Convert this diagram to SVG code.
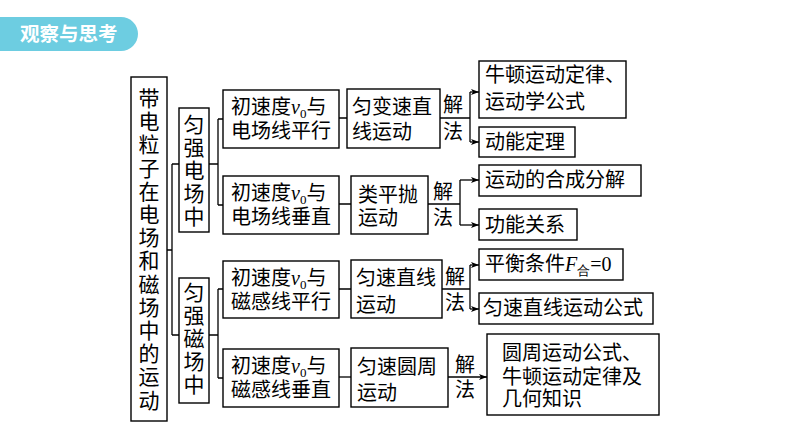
<svg xmlns="http://www.w3.org/2000/svg" width="794" height="447" viewBox="0 0 794 447">
<defs>
<style>
.b{fill:#fff;stroke:#000;stroke-width:1.4}
.t{font-family:"Liberation Serif","Noto Sans CJK SC",serif;font-size:20px;fill:#000}
.v{font-family:"Liberation Serif","Noto Sans CJK SC",serif;font-size:21px;fill:#000;text-anchor:middle}
.c{fill:none;stroke:#000;stroke-width:1.3}
.i{font-style:italic;font-family:"Liberation Serif",serif}
.s{font-size:13px;font-family:"Liberation Serif",serif}
.badge{font-family:"Noto Sans CJK SC","Noto Sans",sans-serif;font-size:19.5px;font-weight:bold;fill:#fff}
</style>
<marker id="ar" markerWidth="8" markerHeight="6" refX="8" refY="3" orient="auto" markerUnits="userSpaceOnUse">
<path d="M0,0 L8,3 L0,6 L2,3 Z" fill="#000"/>
</marker>
</defs>
<rect width="794" height="447" fill="#fff"/>
<g id="badge">
<path d="M0,17 H121 A17,17 0 0 1 121,51 H0 Z" fill="#6dcde1"/>
<text class="badge" x="20" y="41">观察与思考</text>
</g>
<g id="connectors">
<path class="c" d="M167,250 H172 M172,164 V335 M172,164 H179 M172,335 H179"/>
<path class="c" d="M209,164 H218 M218,119 V205 M218,119 H223 M218,205 H223"/>
<path class="c" d="M209,335 H218 M218,289 V378 M218,289 H223 M218,378 H223"/>
<path class="c" d="M339,118 H347 M440,118 H470 M470,92 V142"/>
<path class="c" d="M470,92 H479" marker-end="url(#ar)"/>
<path class="c" d="M470,142 H479" marker-end="url(#ar)"/>
<path class="c" d="M339,204 H351 M428,204 H460 M460,180 V225"/>
<path class="c" d="M460,180 H479" marker-end="url(#ar)"/>
<path class="c" d="M460,225 H479" marker-end="url(#ar)"/>
<path class="c" d="M339,289 H351 M442,289 H470 M470,265 V309"/>
<path class="c" d="M470,265 H479" marker-end="url(#ar)"/>
<path class="c" d="M470,309 H479" marker-end="url(#ar)"/>
<path class="c" d="M339,377 H351"/>
<path class="c" d="M448,377 H487" marker-end="url(#ar)"/>
</g>
<g id="labels">
<text class="t" x="443" y="112">解</text><text class="t" x="443" y="139">法</text>
<text class="t" x="433" y="199">解</text><text class="t" x="433" y="225">法</text>
<text class="t" x="445" y="284">解</text><text class="t" x="445" y="310">法</text>
<text class="t" x="455" y="372">解</text><text class="t" x="455" y="397">法</text>
</g>
<g id="main">
<rect class="b" x="131" y="77" width="36" height="344"/>
<text class="v" x="149"><tspan x="149" y="106">带</tspan><tspan x="149" y="129.2">电</tspan><tspan x="149" y="152.4">粒</tspan><tspan x="149" y="175.6">子</tspan><tspan x="149" y="198.8">在</tspan><tspan x="149" y="222">电</tspan><tspan x="149" y="245.2">场</tspan><tspan x="149" y="268.4">和</tspan><tspan x="149" y="291.6">磁</tspan><tspan x="149" y="314.8">场</tspan><tspan x="149" y="338">中</tspan><tspan x="149" y="361.2">的</tspan><tspan x="149" y="384.4">运</tspan><tspan x="149" y="407.6">动</tspan></text>
</g>
<g id="efield">
<rect class="b" x="179" y="108" width="30" height="124"/>
<text class="v" x="194"><tspan x="194" y="131.5">匀</tspan><tspan x="194" y="154.7">强</tspan><tspan x="194" y="177.9">电</tspan><tspan x="194" y="201.1">场</tspan><tspan x="194" y="224.3">中</tspan></text>
</g>
<g id="bfield">
<rect class="b" x="179" y="278" width="30" height="125"/>
<text class="v" x="194"><tspan x="194" y="299.5">匀</tspan><tspan x="194" y="322.7">强</tspan><tspan x="194" y="345.9">磁</tspan><tspan x="194" y="369.1">场</tspan><tspan x="194" y="392.3">中</tspan></text>
</g>
<g id="c1">
<rect class="b" x="223" y="90" width="116" height="58"/>
<text class="t" x="231" y="114">初速度<tspan class="i">v</tspan><tspan class="s" dy="4">0</tspan><tspan dy="-4">与</tspan></text>
<text class="t" x="231" y="138">电场线平行</text>
</g>
<g id="c2">
<rect class="b" x="223" y="176" width="116" height="58"/>
<text class="t" x="231" y="200">初速度<tspan class="i">v</tspan><tspan class="s" dy="4">0</tspan><tspan dy="-4">与</tspan></text>
<text class="t" x="231" y="224">电场线垂直</text>
</g>
<g id="c3">
<rect class="b" x="223" y="261" width="116" height="57"/>
<text class="t" x="231" y="285">初速度<tspan class="i">v</tspan><tspan class="s" dy="4">0</tspan><tspan dy="-4">与</tspan></text>
<text class="t" x="231" y="309">磁感线平行</text>
</g>
<g id="c4">
<rect class="b" x="223" y="349" width="116" height="58"/>
<text class="t" x="231" y="373">初速度<tspan class="i">v</tspan><tspan class="s" dy="4">0</tspan><tspan dy="-4">与</tspan></text>
<text class="t" x="231" y="397">磁感线垂直</text>
</g>
<g id="m1">
<rect class="b" x="347" y="89" width="93" height="59"/>
<text class="t" x="352" y="114">匀变速直</text>
<text class="t" x="352" y="139">线运动</text>
</g>
<g id="m2">
<rect class="b" x="351" y="176" width="77" height="58"/>
<text class="t" x="358" y="202">类平抛</text>
<text class="t" x="358" y="225">运动</text>
</g>
<g id="m3">
<rect class="b" x="351" y="260" width="91" height="58"/>
<text class="t" x="356" y="285">匀速直线</text>
<text class="t" x="356" y="312">运动</text>
</g>
<g id="m4">
<rect class="b" x="351" y="348" width="97" height="59"/>
<text class="t" x="357" y="374">匀速圆周</text>
<text class="t" x="357" y="400">运动</text>
</g>
<g id="r1">
<rect class="b" x="479" y="61" width="147" height="57"/>
<text class="t" x="485" y="82">牛顿运动定律、</text>
<text class="t" x="485" y="109">运动学公式</text>
</g>
<g id="r2">
<rect class="b" x="479" y="127" width="96" height="30"/>
<text class="t" x="485" y="149">动能定理</text>
</g>
<g id="r3">
<rect class="b" x="479" y="165" width="162" height="31"/>
<text class="t" x="485" y="187">运动的合成分解</text>
</g>
<g id="r4">
<rect class="b" x="479" y="209" width="98" height="31"/>
<text class="t" x="485" y="232">功能关系</text>
</g>
<g id="r5">
<rect class="b" x="479" y="249" width="144" height="31"/>
<text class="t" x="485" y="271">平衡条件<tspan class="i">F</tspan><tspan class="s" dy="4">合</tspan><tspan dy="-4">=0</tspan></text>
</g>
<g id="r6">
<rect class="b" x="479" y="293" width="174" height="31"/>
<text class="t" x="483" y="315">匀速直线运动公式</text>
</g>
<g id="r7">
<rect class="b" x="487" y="334" width="172" height="81"/>
<text class="t" x="502" y="360">圆周运动公式、</text>
<text class="t" x="502" y="384">牛顿运动定律及</text>
<text class="t" x="502" y="406">几何知识</text>
</g>
</svg>
